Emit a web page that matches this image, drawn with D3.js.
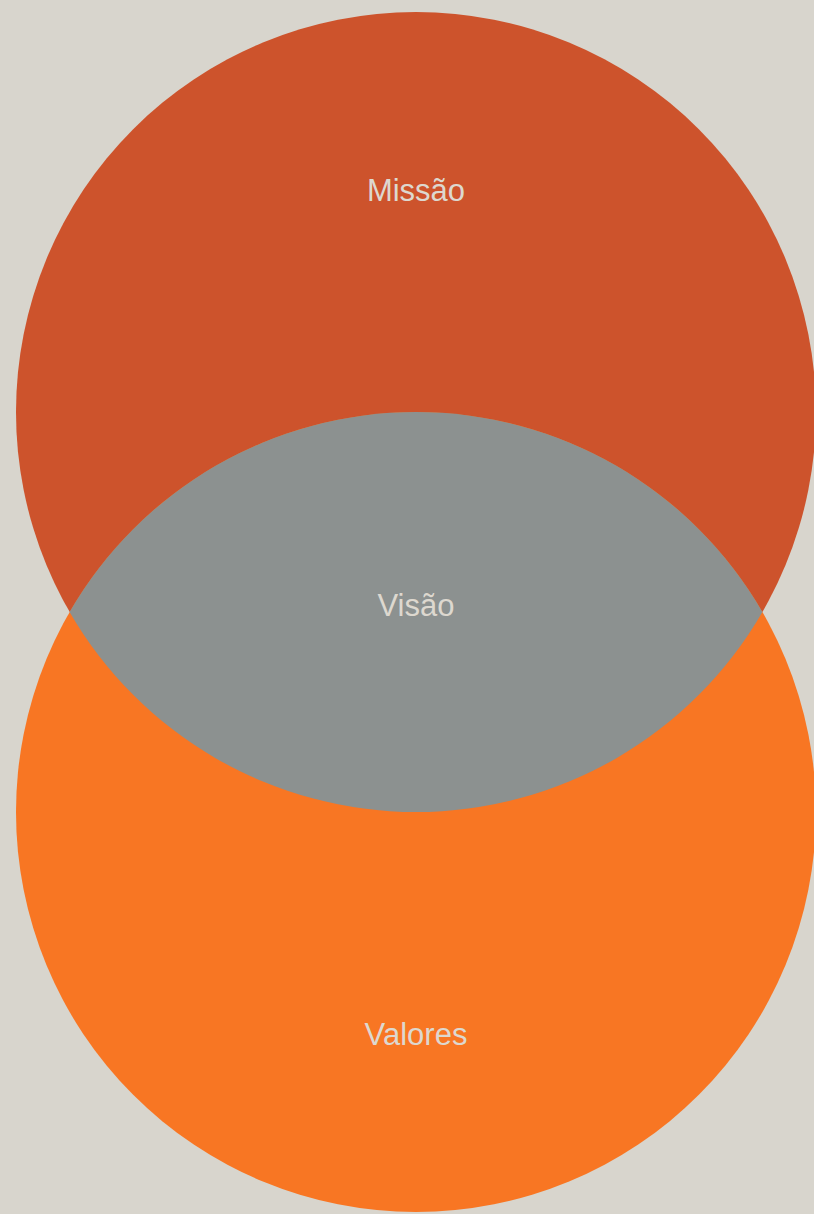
<!DOCTYPE html>
<html>
<head>
<meta charset="utf-8">
<script src="https://cdn.jsdelivr.net/npm/d3@7"></script>
<style>
  html, body { margin: 0; padding: 0; background: #d8d5cd; overflow: hidden; }
  svg { display: block; }
</style>
</head>
<body>
<div id="viz_container"></div>
<script>
//Data/////////////////////////////////////////////////////
const setNames = ["Missão", "Valores"];
const setSizes = [1, 1];          // both circles the same size
const setOrder = [0, 1];          // top, bottom
const overlapName = "Visão";
const centerGap = 1;              // distance between centres, in radii
const setColors = ["#cd532c", "#f87623"];
const overlapColor = "#8c9190";

const width = 814, height = 1214;

const svg = d3.select("#viz_container")
  .append("svg")
    .attr("width", width)
    .attr("height", height)
    .style("font-family", "'Liberation Sans', Arial, sans-serif");

svg.append("rect").attr("width", width).attr("height", height).attr("fill", "#d8d5cd");

// radius scale (area -> radius)
const rScale = d3.scaleSqrt().domain([0, 1]).range([0, 400]);
// vertical position of the centres
const yScale = d3.scaleLinear().domain([0, centerGap]).range([412, 412 + rScale(1) * centerGap]);
const cx = 416;

const circles = setNames.map((name, i) => ({
  name: name,
  r: rScale(setSizes[i]),
  cy: yScale(setOrder[i] * centerGap),
  color: setColors[i]
}));

svg.append("g")
  .selectAll("circle")
  .data(circles)
  .join("circle")
    .attr("cx", cx)
    .attr("cy", d => d.cy)
    .attr("r", d => d.r)
    .attr("fill", d => d.color);

// the lens where the two circles meet
const a = circles[0], b = circles[1];
const dist = b.cy - a.cy;
const ix = (dist * dist - b.r * b.r + a.r * a.r) / (2 * dist);
const hy = Math.sqrt(a.r * a.r - ix * ix);
const yMid = a.cy + ix;
svg.append("path")
  .attr("d", `M${cx - hy},${yMid} A${a.r},${a.r} 0 0 0 ${cx + hy},${yMid} A${b.r},${b.r} 0 0 0 ${cx - hy},${yMid} Z`)
  .attr("fill", overlapColor);

// labels
const labelColor = "#ddd8cf";
const labels = [
  { text: setNames[0], y: a.cy - a.r * 0.555 },
  { text: overlapName, y: yMid - 7 },
  { text: setNames[1], y: b.cy + b.r * 0.555 }
];
svg.append("g")
  .selectAll("text")
  .data(labels)
  .join("text")
    .attr("x", cx)
    .attr("y", d => d.y)
    .attr("dy", "0.35em")
    .attr("text-anchor", "middle")
    .attr("fill", labelColor)
    .style("font-size", "31px")
    .text(d => d.text);
</script>
</body>
</html>
